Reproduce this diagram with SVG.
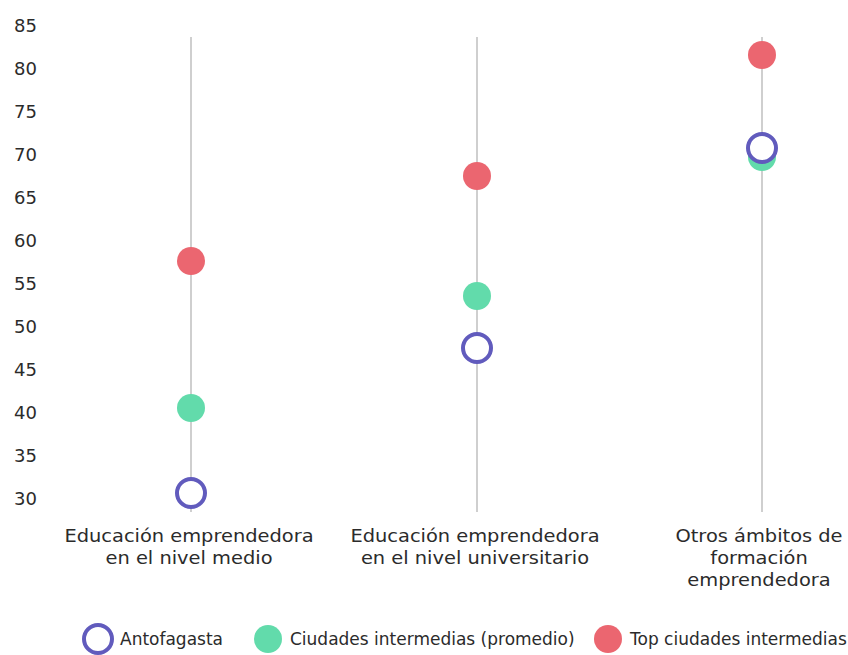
<svg xmlns="http://www.w3.org/2000/svg" width="848" height="655" viewBox="0 0 848 655">
<style>
text{font-family:"DejaVu Sans","Open Sans",sans-serif;fill:#2b2b2b;}
.ax{font-size:18px;text-anchor:end;}
.cat{font-size:17.5px;text-anchor:middle;}
.lg{font-size:17px;}
.grid{stroke:#cfcfcf;stroke-width:2;}
.red{fill:#EB6670;}
.green{fill:#62DBAB;}
.blue{fill:#fff;stroke:#615BBD;stroke-width:4;}
</style>
<rect width="848" height="655" fill="#fff"/>
<g id="yaxis">
<text class="ax" x="37" y="32">85</text>
<text class="ax" x="37" y="75">80</text>
<text class="ax" x="37" y="118">75</text>
<text class="ax" x="37" y="161">70</text>
<text class="ax" x="37" y="204">65</text>
<text class="ax" x="37" y="247">60</text>
<text class="ax" x="37" y="290">55</text>
<text class="ax" x="37" y="333">50</text>
<text class="ax" x="37" y="376">45</text>
<text class="ax" x="37" y="419">40</text>
<text class="ax" x="37" y="462">35</text>
<text class="ax" x="37" y="505">30</text>
</g>
<g id="connectors">
<line class="grid" x1="191" y1="37" x2="191" y2="512"/>
<line class="grid" x1="477" y1="37" x2="477" y2="512"/>
<line class="grid" x1="762" y1="37" x2="762" y2="512"/>
</g>
<g id="col1">
<circle class="red" cx="191" cy="261" r="14"/>
<circle class="green" cx="191" cy="408" r="14"/>
<circle class="blue" cx="191" cy="493" r="14"/>
<g transform="translate(189,0) scale(1.11,1)">
<text class="cat" x="0" y="542">Educación emprendedora</text>
<text class="cat" x="0" y="564">en el nivel medio</text>
</g>
</g>
<g id="col2">
<circle class="red" cx="477" cy="176" r="14"/>
<circle class="green" cx="477" cy="296" r="14"/>
<circle class="blue" cx="477" cy="348" r="14"/>
<g transform="translate(475,0) scale(1.11,1)">
<text class="cat" x="0" y="542">Educación emprendedora</text>
<text class="cat" x="0" y="564">en el nivel universitario</text>
</g>
</g>
<g id="col3">
<circle class="red" cx="762" cy="55" r="14"/>
<circle class="green" cx="762" cy="157" r="14"/>
<circle class="blue" cx="762" cy="148" r="14"/>
<g transform="translate(759,0) scale(1.11,1)">
<text class="cat" x="0" y="542">Otros ámbitos de</text>
<text class="cat" x="0" y="564">formación</text>
<text class="cat" x="0" y="586">emprendedora</text>
</g>
</g>
<g id="legend">
<circle class="blue" cx="98" cy="639" r="14"/>
<text class="lg" x="120" y="645">Antofagasta</text>
<circle class="green" cx="268" cy="639" r="14"/>
<text class="lg" x="290" y="645">Ciudades intermedias (promedio)</text>
<circle class="red" cx="608" cy="639" r="14"/>
<text class="lg" x="630" y="645">Top ciudades intermedias</text>
</g>
</svg>
